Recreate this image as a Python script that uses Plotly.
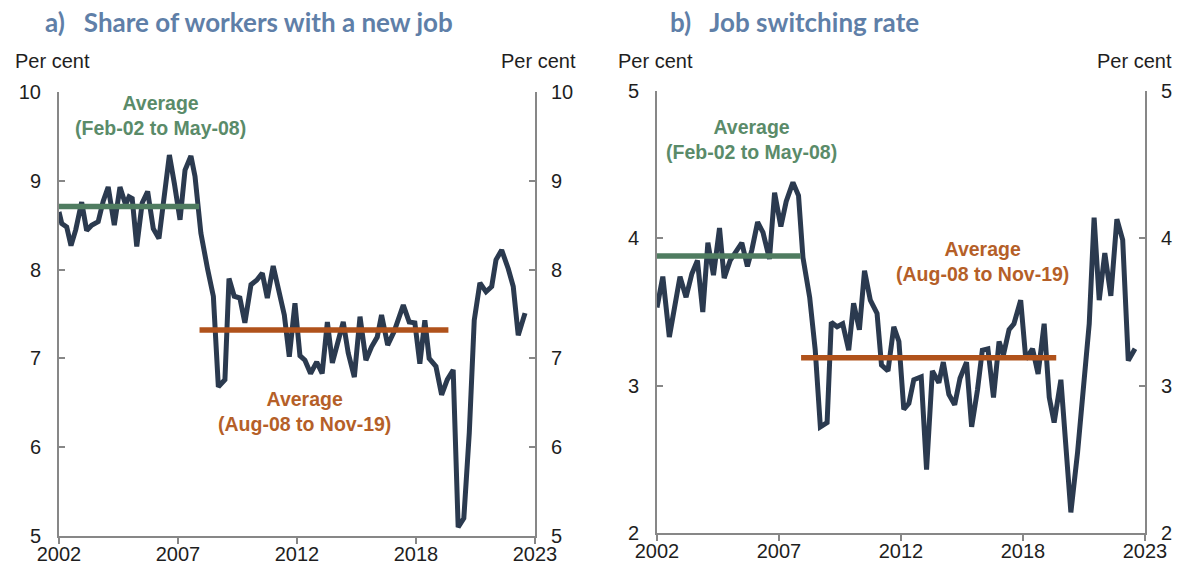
import plotly.graph_objects as go

# ---------------- data ----------------
share_x = [2002.00, 2002.12, 2002.34, 2002.53, 2002.74, 2003.00, 2003.22, 2003.44, 2003.73, 2003.95,
           2004.17, 2004.44, 2004.69, 2004.94, 2005.09, 2005.23, 2005.43, 2005.67, 2005.91, 2006.16,
           2006.41, 2006.60, 2006.87, 2007.09, 2007.34, 2007.56, 2007.82, 2008.00, 2008.26, 2008.56,
           2008.81, 2009.03, 2009.32, 2009.50, 2009.73, 2009.98, 2010.20, 2010.47, 2010.72, 2010.97,
           2011.19, 2011.45, 2011.70, 2011.94, 2012.16, 2012.41, 2012.63, 2012.85, 2013.10, 2013.37,
           2013.61, 2013.84, 2014.06, 2014.32, 2014.54, 2014.76, 2015.03, 2015.28, 2015.54, 2015.79,
           2016.04, 2016.23, 2016.50, 2016.78, 2017.19, 2017.45, 2017.70, 2017.92, 2018.14, 2018.33,
           2018.63, 2018.88, 2019.13, 2019.39, 2019.61, 2019.86, 2020.10, 2020.32, 2020.57, 2020.84,
           2021.09, 2021.28, 2021.53, 2021.82, 2022.04, 2022.26, 2022.56]
share_v = [8.65, 8.52, 8.48, 8.27, 8.45, 8.76, 8.44, 8.50, 8.54, 8.77,
           8.93, 8.50, 8.93, 8.73, 8.82, 8.80, 8.26, 8.75, 8.88, 8.46,
           8.35, 8.73, 9.29, 8.97, 8.56, 9.12, 9.28, 9.05, 8.41, 8.00,
           7.70, 6.68, 6.76, 7.90, 7.70, 7.68, 7.40, 7.83, 7.88, 7.96,
           7.68, 8.04, 7.77, 7.49, 7.02, 7.62, 7.03, 6.98, 6.83, 6.96,
           6.83, 7.41, 6.95, 7.19, 7.41, 7.06, 6.79, 7.47, 6.98, 7.13,
           7.24, 7.49, 7.15, 7.30, 7.60, 7.41, 7.40, 6.94, 7.43, 7.00,
           6.91, 6.59, 6.76, 6.87, 5.10, 5.20, 6.16, 7.43, 7.85, 7.75,
           7.81, 8.11, 8.22, 8.01, 7.81, 7.26, 7.51]

switch_x = [2002.00, 2002.25, 2002.53, 2002.78, 2002.99, 2003.25, 2003.50, 2003.74, 2003.97, 2004.19,
            2004.43, 2004.69, 2004.89, 2005.15, 2005.41, 2005.65, 2005.89, 2006.08, 2006.33, 2006.56,
            2006.84, 2007.06, 2007.33, 2007.56, 2007.85, 2008.09, 2008.28, 2008.57, 2008.81, 2009.03,
            2009.32, 2009.50, 2009.75, 2009.99, 2010.25, 2010.46, 2010.71, 2010.93, 2011.18, 2011.47,
            2011.66, 2011.94, 2012.19, 2012.41, 2012.62, 2012.84, 2013.05, 2013.37, 2013.60, 2013.85,
            2014.13, 2014.32, 2014.56, 2014.81, 2015.04, 2015.32, 2015.54, 2015.79, 2016.00, 2016.24,
            2016.48, 2016.72, 2016.91, 2017.15, 2017.36, 2017.65, 2017.87, 2018.16, 2018.40, 2018.66,
            2018.88, 2019.09, 2019.38, 2019.81, 2020.10, 2020.31, 2020.60, 2020.81, 2021.03, 2021.27,
            2021.53, 2021.79, 2022.04, 2022.28, 2022.57]
switch_v = [3.53, 3.74, 3.33, 3.56, 3.74, 3.60, 3.76, 3.85, 3.50, 3.97,
            3.75, 4.07, 3.73, 3.85, 3.91, 3.97, 3.81, 3.92, 4.11, 4.04,
            3.86, 4.31, 4.08, 4.25, 4.38, 4.29, 3.87, 3.60, 3.24, 2.72,
            2.75, 3.43, 3.40, 3.42, 3.24, 3.56, 3.38, 3.78, 3.58, 3.49,
            3.14, 3.10, 3.40, 3.30, 2.84, 2.88, 3.04, 3.06, 2.43, 3.10,
            3.02, 3.16, 2.94, 2.87, 3.05, 3.16, 2.72, 2.97, 3.24, 3.25,
            2.92, 3.30, 3.21, 3.38, 3.42, 3.58, 3.18, 3.25, 3.08, 3.42,
            2.92, 2.75, 3.04, 2.14, 2.55, 2.88, 3.42, 4.14, 3.58, 3.90,
            3.61, 4.13, 3.99, 3.17, 3.25]

# averages: [start, end] positions and levels
avg_pre_x = [2002.0, 2008.18]
avg_post_x = [2008.2, 2019.18]
share_avg_pre = 8.71
share_avg_post = 7.32
switch_avg_pre = 3.88
switch_avg_post = 3.19

x_tickvals = [2002, 2007.25, 2012.5, 2017.75, 2023]
x_ticktext = ["2002", "2007", "2012", "2018", "2023"]

titles = ["a)   Share of workers with a new job", "b)   Job switching rate"]

# ---------------- style ----------------
NAVY = "#2B3A4F"
GREEN_LINE = "#4F7C60"
GREEN_TXT = "#5A8B69"
ORANGE_LINE = "#B0521B"
ORANGE_TXT = "#B55F28"
TITLE_C = "#5F7FA8"
AXIS_C = "#878787"
TXT_C = "#1E1E1E"
FONT = "Liberation Sans, Arial, sans-serif"

PAGE_W, PAGE_H = 1183, 569
OFF = 8                      # default page body margin
W, H = PAGE_W - 2 * OFF, PAGE_H - 2 * OFF

fig = go.Figure()

def px_x(p):
    return (p - OFF) / W

def px_y(p):
    return 1 - (p - OFF) / H

# left panel traces
fig.add_trace(go.Scatter(x=share_x, y=share_v, mode="lines",
                         line=dict(color=NAVY, width=5), xaxis="x", yaxis="y", showlegend=False))
fig.add_trace(go.Scatter(x=avg_pre_x, y=[share_avg_pre] * 2, mode="lines",
                         line=dict(color=GREEN_LINE, width=5.5), xaxis="x", yaxis="y", showlegend=False))
fig.add_trace(go.Scatter(x=avg_post_x, y=[share_avg_post] * 2, mode="lines",
                         line=dict(color=ORANGE_LINE, width=5.5), xaxis="x", yaxis="y", showlegend=False))
fig.add_trace(go.Scatter(x=[None], y=[None], xaxis="x", yaxis="y3", showlegend=False, hoverinfo="skip"))

# right panel traces
fig.add_trace(go.Scatter(x=switch_x, y=switch_v, mode="lines",
                         line=dict(color=NAVY, width=5), xaxis="x2", yaxis="y2", showlegend=False))
fig.add_trace(go.Scatter(x=avg_pre_x, y=[switch_avg_pre] * 2, mode="lines",
                         line=dict(color=GREEN_LINE, width=5.5), xaxis="x2", yaxis="y2", showlegend=False))
fig.add_trace(go.Scatter(x=avg_post_x, y=[switch_avg_post] * 2, mode="lines",
                         line=dict(color=ORANGE_LINE, width=5.5), xaxis="x2", yaxis="y2", showlegend=False))
fig.add_trace(go.Scatter(x=[None], y=[None], xaxis="x2", yaxis="y4", showlegend=False, hoverinfo="skip"))

tickfont = dict(family=FONT, size=20, color=TXT_C)

xcommon = dict(range=[2002, 2023], tickvals=x_tickvals, ticktext=x_ticktext, showgrid=False,
               zeroline=False, showline=True, linecolor=AXIS_C, linewidth=2, ticks="outside",
               ticklen=6, tickwidth=2, tickcolor=AXIS_C, tickfont=tickfont, fixedrange=True,
               automargin=False, ticklabelstandoff=-7)
ycommon = dict(showgrid=False, zeroline=False, showline=True, linecolor=AXIS_C, linewidth=2,
               ticks="inside", ticklen=6, tickwidth=2, tickcolor=AXIS_C, tickfont=tickfont,
               dtick=1, fixedrange=True, automargin=False)

L_dom = [px_x(59), px_x(535)]
R_dom = [px_x(657), px_x(1145)]
L_ydom = [px_y(536), px_y(92)]
R_ydom = [px_y(533), px_y(91)]

fig.update_layout(
    width=W, height=H,
    margin=dict(l=0, r=0, t=0, b=0),
    paper_bgcolor="white", plot_bgcolor="white",
    xaxis=dict(domain=L_dom, anchor="y", **xcommon),
    xaxis2=dict(domain=R_dom, anchor="y2", **xcommon),
    yaxis=dict(domain=L_ydom, anchor="x", range=[5, 10], ticklabelstandoff=12, **ycommon),
    yaxis3=dict(overlaying="y", side="right", anchor="x", range=[5, 10], ticklabelstandoff=10, **ycommon),
    yaxis2=dict(domain=R_ydom, anchor="x2", range=[2, 5], ticklabelstandoff=12, **ycommon),
    yaxis4=dict(overlaying="y2", side="right", anchor="x2", range=[2, 5], ticklabelstandoff=10, **ycommon),
)

ann = []
# titles
ann.append(dict(text=titles[0], x=px_x(43), y=px_y(22), xref="paper", yref="paper",
                xanchor="left", yanchor="middle", showarrow=False,
                font=dict(family="Lato, sans-serif", size=26, color=TITLE_C, weight="bold")))
ann.append(dict(text=titles[1], x=px_x(668), y=px_y(22), xref="paper", yref="paper",
                xanchor="left", yanchor="middle", showarrow=False,
                font=dict(family="Lato, sans-serif", size=26, color=TITLE_C, weight="bold")))
# Per cent labels
for xp, anchor in [(13, "left"), (578, "right"), (616, "left"), (1174, "right")]:
    ann.append(dict(text="Per cent", x=px_x(xp), y=px_y(61), xref="paper", yref="paper",
                    xanchor=anchor, yanchor="middle", showarrow=False,
                    font=dict(family=FONT, size=20, color=TXT_C)))
# average labels
lab_font_g = dict(family=FONT, size=19.5, color=GREEN_TXT, weight="bold")
lab_font_o = dict(family=FONT, size=19.5, color=ORANGE_TXT, weight="bold")
ann.append(dict(text="Average<br>(Feb-02 to May-08)", x=2006.46, y=9.73, xref="x", yref="y",
                showarrow=False, font=lab_font_g, align="center"))
ann.append(dict(text="Average<br>(Aug-08 to Nov-19)", x=2012.85, y=6.40, xref="x", yref="y",
                showarrow=False, font=lab_font_o, align="center"))
ann.append(dict(text="Average<br>(Feb-02 to May-08)", x=2006.05, y=4.67, xref="x2", yref="y2",
                showarrow=False, font=lab_font_g, align="center"))
ann.append(dict(text="Average<br>(Aug-08 to Nov-19)", x=2016.01, y=3.84, xref="x2", yref="y2",
                showarrow=False, font=lab_font_o, align="center"))
fig.update_layout(annotations=ann)

fig.write_html("out.html")
